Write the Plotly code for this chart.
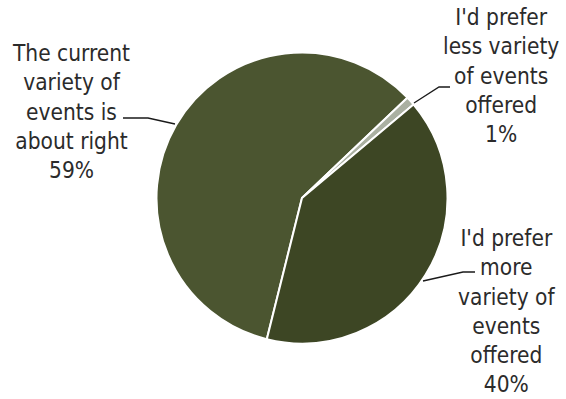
import plotly.graph_objects as go

# Survey responses about the variety of events offered
labels = [
    "The current variety of events is about right",
    "I'd prefer less variety of events offered",
    "I'd prefer more variety of events offered",
]
values = [59, 1, 40]
label_lines = [
    ["The current", "variety of", "events is", "about right"],
    ["I'd prefer", "less variety", "of events", "offered"],
    ["I'd prefer", "more", "variety of", "events", "offered"],
]
colors = ["#4b5530", "#aab0a1", "#3d4624"]

W, H = 566, 399


def px(x):
    return x / W


def py(y):
    return 1 - y / H


fig = go.Figure(
    go.Pie(
        labels=labels,
        values=values,
        sort=False,
        direction="clockwise",
        rotation=194,
        marker=dict(colors=colors, line=dict(color="white", width=2)),
        textinfo="none",
        hoverinfo="label+percent",
        showlegend=False,
        domain=dict(x=[px(156.5), px(447.5)], y=[py(343.5), py(52.5)]),
    )
)

font = dict(family="DejaVu Sans Condensed, DejaVu Sans, sans-serif", size=22.5, color="#2b2b2b")

# label block centres (pixel space)
label_pos = [(71, 111), (501, 75), (506, 311)]
for lines, v, (cx, cy) in zip(label_lines, values, label_pos):
    fig.add_annotation(
        x=px(cx), y=py(cy), xref="paper", yref="paper",
        text="<br>".join(lines + [f"{v}%"]),
        showarrow=False, font=font, align="center",
        xanchor="center", yanchor="middle",
    )

# leader lines from each slice to its label
leaders = [
    [(123, 118), (148, 118), (175, 124)],
    [(414, 103), (439, 87), (450, 87)],
    [(423, 281), (463, 272), (475, 272)],
]
for pts in leaders:
    path = "M " + " L ".join(f"{px(x)},{py(y)}" for x, y in pts)
    fig.add_shape(type="path", path=path, xref="paper", yref="paper",
                  line=dict(color="#1a1a1a", width=1.3))

fig.update_layout(
    width=W, height=H,
    margin=dict(l=0, r=0, t=0, b=0),
    paper_bgcolor="white", plot_bgcolor="white",
)

fig.write_html("out.html")
